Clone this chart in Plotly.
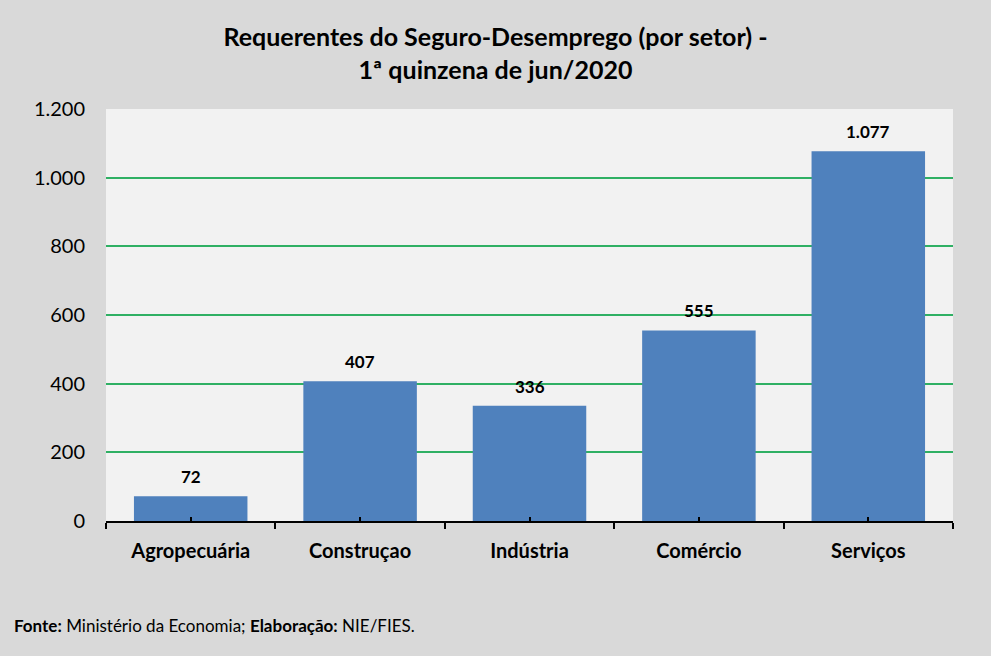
import plotly.graph_objects as go

setores = ["Agropecuária", "Construçao", "Indústria", "Comércio", "Serviços"]
requerentes = [72, 407, 336, 555, 1077]
y_ticks = [0, 200, 400, 600, 800, 1000, 1200]

fonte = "Lato"

fig = go.Figure()
fig.add_trace(
    go.Bar(
        x=setores,
        y=requerentes,
        width=0.67,
        marker=dict(color="#4f81bd", line=dict(width=0)),
        hoverinfo="x+y",
    )
)
# eixo fantasma so para os tracinhos no centro de cada categoria
fig.add_trace(
    go.Scatter(x=setores, y=[None] * len(setores), xaxis="x2", showlegend=False, hoverinfo="skip")
)

# rotulos de dados
for s, v in zip(setores, requerentes):
    fig.add_annotation(
        x=s,
        y=v,
        text=f"<b>{v:,}</b>".replace(",", "."),
        showarrow=False,
        yanchor="bottom",
        yshift=7,
        font=dict(family=fonte, size=17, color="#000000"),
    )

fig.update_layout(
    width=991,
    height=656,
    paper_bgcolor="#d9d9d9",
    plot_bgcolor="#f2f2f2",
    separators=",.",
    margin=dict(l=106, r=38, t=109, b=135),
    showlegend=False,
    title=dict(
        text="<b>Requerentes do Seguro-Desemprego (por setor) -<br>1ª quinzena de jun/2020</b>",
        x=0.5,
        xanchor="center",
        y=1 - 46 / 656,
        yanchor="top",
        font=dict(family=fonte, size=25, color="#000000"),
    ),
    font=dict(family=fonte, color="#000000"),
    xaxis2=dict(
        overlaying="x",
        matches="x",
        side="bottom",
        anchor="y",
        showticklabels=False,
        showgrid=False,
        ticks="inside",
        ticklen=4,
        tickwidth=2,
        tickcolor="#000000",
    ),
)

fig.update_yaxes(
    range=[0, 1200],
    tickvals=y_ticks,
    tickformat=",d",
    showgrid=True,
    gridcolor="#2fb064",
    gridwidth=2,
    zeroline=False,
    showline=False,
    ticks="",
    ticklabelstandoff=20,
    tickfont=dict(family=fonte, size=20, color="#000000"),
)

fig.layout.xaxis.update(
    showline=True,
    linecolor="#000000",
    linewidth=2,
    ticks="outside",
    tickson="boundaries",
    ticklen=6,
    tickcolor="#000000",
    tickwidth=2,
    ticklabelstandoff=11,
    tickfont=dict(family=fonte, size=20, color="#000000", weight="bold"),
)

fig.add_annotation(
    text="<b>Fonte:</b> Ministério da Economia; <b>Elaboração:</b> NIE/FIES.",
    xref="paper",
    yref="paper",
    x=-106 / 847,
    xshift=12,
    y=-104 / 412,
    xanchor="left",
    yanchor="middle",
    showarrow=False,
    font=dict(family=fonte, size=17, color="#000000"),
)

fig.write_html(
    "out.html",
    config={"displayModeBar": False},
    post_script="document.body.style.margin='0';document.body.style.background='#d9d9d9';",
)
